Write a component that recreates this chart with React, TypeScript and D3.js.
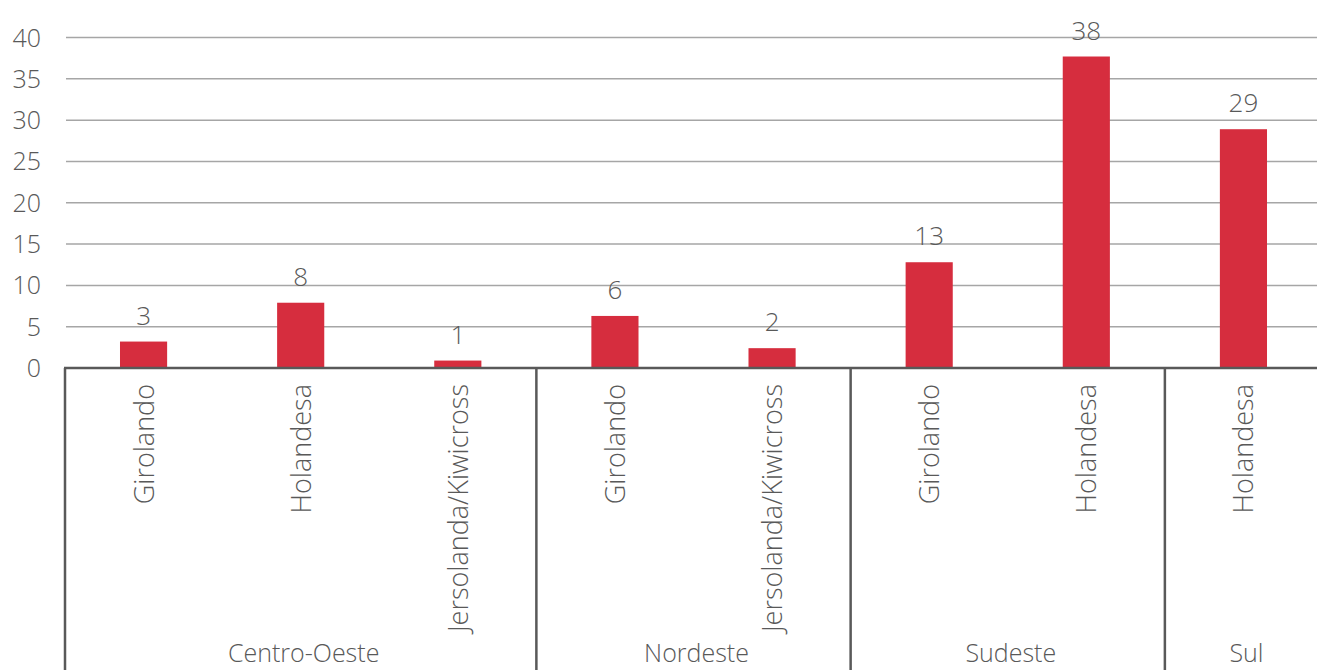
import * as d3 from "d3";

const breeds = [
  "Girolando",
  "Holandesa",
  "Jersolanda/Kiwicross",
  "Girolando",
  "Jersolanda/Kiwicross",
  "Girolando",
  "Holandesa",
  "Holandesa",
];
const regions = [
  "Centro-Oeste",
  "Centro-Oeste",
  "Centro-Oeste",
  "Nordeste",
  "Nordeste",
  "Sudeste",
  "Sudeste",
  "Sul",
];
const values = [3.2, 7.9, 0.9, 6.3, 2.4, 12.8, 37.7, 28.9];
const yTicks = [0, 5, 10, 15, 20, 25, 30, 35, 40];

const WIDTH = 1317;
const HEIGHT = 670;
const FONT = "'Open Sans', sans-serif";
const TEXT = "#595959";
const RED = "#d62d3e";

export default function App() {
  const idx = breeds.map((_, i) => i);
  const x = d3.scaleBand<number>().domain(idx).range([65, 1322]).padding(0);
  const y = d3.scaleLinear().domain([0, 40]).range([368, 37.5]);
  const barW = x.bandwidth() * 0.3;
  const fmt = d3.format(".0f");

  // group consecutive categories by region
  const groups = d3.groups(idx, (i) => regions[i]).map(([name, items]) => ({
    name,
    start: x(items[0])!,
    end: x(items[items.length - 1])! + x.bandwidth(),
  }));

  return (
    <svg
      width={WIDTH}
      height={HEIGHT}
      style={{ position: "absolute", left: 0, top: 0, background: "#fff" }}
      fontFamily={FONT}
      fontWeight={300}
    >
      {yTicks.map((t) => (
        <g key={t}>
          {t > 0 && (
            <line
              x1={66}
              x2={WIDTH}
              y1={y(t)}
              y2={y(t)}
              stroke="#a6a6a6"
              strokeWidth={1.5}
            />
          )}
          <text
            x={41}
            y={y(t)}
            dy="0.36em"
            textAnchor="end"
            fontSize={25}
            fill={TEXT}
          >
            {t}
          </text>
        </g>
      ))}

      {values.map((v, i) => (
        <g key={i}>
          <rect
            x={x(i)! + (x.bandwidth() - barW) / 2}
            y={y(v)}
            width={barW}
            height={y(0) - y(v)}
            fill={RED}
          />
          <text
            x={x(i)! + x.bandwidth() / 2}
            y={y(v) - 17}
            textAnchor="middle"
            fontSize={26}
            fill={TEXT}
          >
            {fmt(v)}
          </text>
          <text
            transform={`translate(${x(i)! + x.bandwidth() / 2},384) rotate(-90)`}
            dy="0.37em"
            textAnchor="end"
            fontSize={27}
            fill={TEXT}
          >
            {breeds[i]}
          </text>
        </g>
      ))}

      <line x1={64} x2={WIDTH} y1={y(0)} y2={y(0)} stroke={TEXT} strokeWidth={2.5} />

      {groups.map((g) => (
        <g key={g.name}>
          <line x1={g.start} x2={g.start} y1={y(0)} y2={HEIGHT} stroke={TEXT} strokeWidth={2.5} />
          <text
            x={(g.start + g.end) / 2 + 3}
            y={662}
            textAnchor="middle"
            fontSize={25}
            fill={TEXT}
          >
            {g.name}
          </text>
        </g>
      ))}
    </svg>
  );
}
